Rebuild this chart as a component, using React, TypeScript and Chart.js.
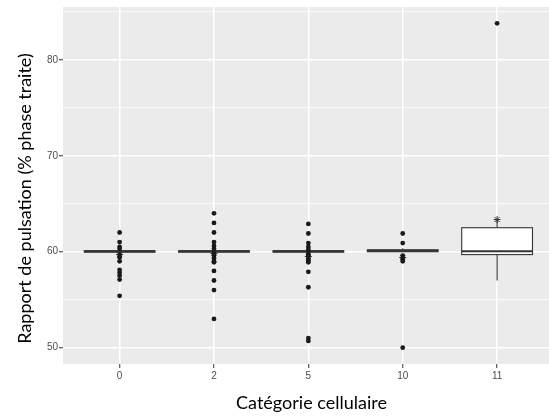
import React, { useEffect, useRef } from "react";
import { Chart, registerables } from "chart.js";

Chart.register(...registerables);

const categories = ["0", "2", "5", "10", "11"];
const boxLower = [59.95, 59.95, 59.95, 60.0, 59.7];
const boxMedian = [60.05, 60.05, 60.05, 60.1, 60.05];
const boxUpper = [60.1, 60.1, 60.1, 60.2, 62.5];
const whiskerLow = [59.95, 59.95, 59.95, 60.0, 57.0];
const whiskerHigh = [60.1, 60.1, 60.1, 60.35, 63.3];
const means = [59.7, 59.8, 59.5, 59.4, 63.35];
const outliers0 = [62, 61, 60.5, 60.3, 59.7, 59.4, 59, 58.1, 57.8, 57.5, 57.1, 55.4];
const outliers2 = [64, 63, 62, 61, 60.6, 60.3, 59.8, 59.6, 59.3, 59, 58.9, 58, 57, 56, 53];
const outliers5 = [62.9, 61.9, 60.9, 60.5, 60.2, 59.8, 59.6, 59.3, 59.1, 58.9, 57.9, 56.3, 51, 50.7];
const outliers10 = [61.9, 60.9, 59.6, 59.3, 59.0, 50];
const outliers11 = [83.8];
const outliersByCategory = [outliers0, outliers2, outliers5, outliers10, outliers11];
const yTicks = [50, 55, 60, 65, 70, 75, 80, 85];

const X_TITLE = "Catégorie cellulaire";
const Y_TITLE = "Rapport de pulsation (% phase traite)";

const boxPlugin = {
  id: "boxes",
  beforeDraw(chart: any) {
    const { ctx, chartArea } = chart;
    ctx.save();
    ctx.fillStyle = "#EBEBEB";
    ctx.fillRect(chartArea.left, chartArea.top, chartArea.right - chartArea.left, chartArea.bottom - chartArea.top);
    ctx.restore();
  },
  beforeDatasetsDraw(chart: any) {
    const { ctx, chartArea } = chart;
    const xs = chart.scales.x;
    const ys = chart.scales.y;
    ctx.save();
    ctx.beginPath();
    ctx.rect(chartArea.left, chartArea.top, chartArea.right - chartArea.left, chartArea.bottom - chartArea.top);
    ctx.clip();
    ctx.strokeStyle = "#333333";
    categories.forEach((_, i) => {
      const xc = xs.getPixelForValue(i);
      const xl = xs.getPixelForValue(i - 0.375);
      const xr = xs.getPixelForValue(i + 0.375);
      const yq1 = ys.getPixelForValue(boxLower[i]);
      const yq3 = ys.getPixelForValue(boxUpper[i]);
      const ymed = ys.getPixelForValue(boxMedian[i]);
      const ywl = ys.getPixelForValue(whiskerLow[i]);
      const ywh = ys.getPixelForValue(whiskerHigh[i]);
      ctx.lineWidth = 1.1;
      ctx.beginPath();
      ctx.moveTo(xc, yq1);
      ctx.lineTo(xc, ywl);
      ctx.moveTo(xc, yq3);
      ctx.lineTo(xc, ywh);
      ctx.stroke();
      ctx.fillStyle = "#FFFFFF";
      ctx.fillRect(xl, yq3, xr - xl, yq1 - yq3);
      ctx.strokeRect(xl, yq3, xr - xl, yq1 - yq3);
      ctx.lineWidth = 2.2;
      ctx.beginPath();
      ctx.moveTo(xl, ymed);
      ctx.lineTo(xr, ymed);
      ctx.stroke();
    });
    ctx.restore();
  },
  afterDraw(chart: any) {
    const { ctx } = chart;
    ctx.save();
    ctx.fillStyle = "#000000";
    ctx.font = "18px Lato";
    ctx.textAlign = "center";
    ctx.textBaseline = "middle";
    ctx.fillText(X_TITLE, 311.5, 403);
    ctx.translate(25, 198.5);
    ctx.rotate(-Math.PI / 2);
    ctx.fillText(Y_TITLE, 0, 0);
    ctx.restore();
  },
};

export default function App() {
  const ref = useRef<HTMLCanvasElement>(null);
  useEffect(() => {
    const outlierPoints = outliersByCategory.flatMap((vals, i) => vals.map((v) => ({ x: i, y: v })));
    const meanPoints = means.map((v, i) => ({ x: i, y: v }));
    const chart = new Chart(ref.current as HTMLCanvasElement, {
      type: "scatter",
      data: {
        datasets: [
          {
            data: outlierPoints,
            pointRadius: 2.4,
            pointBackgroundColor: "#1a1a1a",
            pointBorderWidth: 0,
          },
          {
            data: meanPoints,
            pointStyle: "star",
            pointRadius: 3.5,
            pointBorderColor: "#333333",
            pointBackgroundColor: "transparent",
            pointBorderWidth: 1,
          },
        ],
      },
      options: {
        responsive: false,
        animation: false,
        devicePixelRatio: 1,
        layout: { autoPadding: false, padding: { top: 7, right: 0, left: 0, bottom: 0 } },
        plugins: { legend: { display: false }, tooltip: { enabled: false } },
        scales: {
          x: {
            type: "linear",
            min: -0.6,
            max: 4.55,
            afterBuildTicks: (scale: any) => {
              scale.ticks = categories.map((_, i) => ({ value: i }));
            },
            afterFit: (scale: any) => {
              scale.height = 54;
            },
            border: { display: false },
            grid: { color: "#FFFFFF", lineWidth: 1.5, tickColor: "#333333", tickLength: 4, tickWidth: 1 },
            ticks: {
              padding: 2,
              color: "#4D4D4D",
              font: { family: "Liberation Sans", size: 10 },
              maxRotation: 0,
              callback: (v: any) => categories[v] ?? "",
            },
          },
          y: {
            type: "linear",
            min: 48.3,
            max: 85.5,
            afterBuildTicks: (scale: any) => {
              scale.ticks = yTicks.map((v) => ({ value: v }));
            },
            afterFit: (scale: any) => {
              scale.width = 63;
            },
            border: { display: false },
            grid: {
              color: "#FFFFFF",
              lineWidth: (c: any) => (c.tick && c.tick.value % 10 === 0 ? 1.5 : 0.75),
              tickColor: (c: any) => (c.tick && c.tick.value % 10 === 0 ? "#333333" : "rgba(0,0,0,0)"),
              tickLength: 4,
              tickWidth: 1,
            },
            ticks: {
              padding: 1,
              color: "#4D4D4D",
              font: { family: "Liberation Sans", size: 10 },
              callback: (v: any) => (v % 10 === 0 ? String(v) : ""),
            },
          },
        },
      },
      plugins: [boxPlugin],
    } as any);
    return () => chart.destroy();
  }, []);
  return (
    <canvas
      ref={ref}
      width={549}
      height={418}
      style={{ position: "absolute", left: 0, top: 0, width: 549, height: 418 }}
    />
  );
}
